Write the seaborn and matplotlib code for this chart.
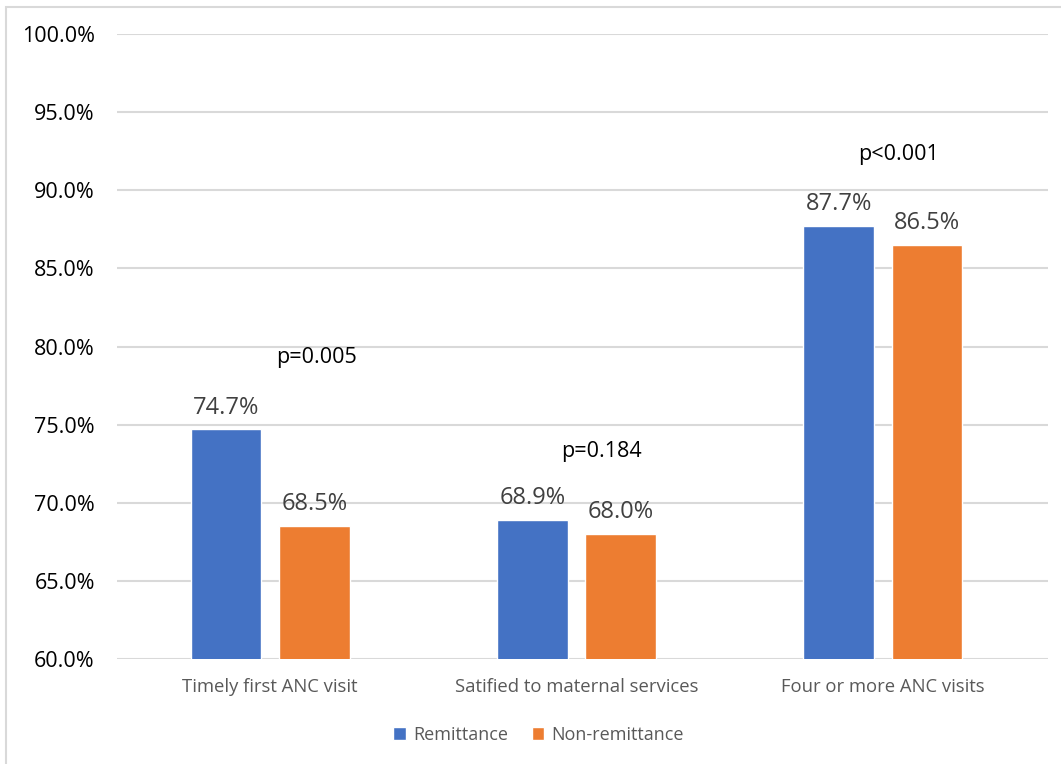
import matplotlib
matplotlib.use("Agg")
import matplotlib.pyplot as plt
import seaborn as sns
import pandas as pd
from matplotlib.patches import Rectangle

categories = ["Timely first ANC visit", "Satified to maternal services", "Four or more ANC visits"]
groups = ["Remittance", "Non-remittance"]
remittance = [74.7, 68.9, 87.7]
non_remittance = [68.5, 68.0, 86.5]
p_labels = ["p=0.005", "p=0.184", "p<0.001"]
p_pos = [(0.15, 79.3), (1.08, 73.3), (2.05, 92.3)]
y_ticks = [60, 65, 70, 75, 80, 85, 90, 95, 100]

df = pd.DataFrame({
    "category": categories * 2,
    "group": [groups[0]] * 3 + [groups[1]] * 3,
    "value": remittance + non_remittance,
})

sns.set_theme(style="white")
plt.rcParams["font.family"] = ["Open Sans", "DejaVu Sans"]

fig = plt.figure(figsize=(10.61, 7.64), dpi=100)
ax = fig.add_axes([0.1103, 0.1374, 0.8774, 0.8181])

sns.barplot(data=df, x="category", y="value", hue="group", order=categories,
            hue_order=groups, palette=["#4472C4", "#ED7D31"], width=0.577,
            gap=0.2, ax=ax, legend=True, saturation=1, errorbar=None)

ax.set_ylim(60, 100)
ax.set_xlim(-0.5, 2.539)
ax.set_yticks(y_ticks)
ax.set_yticklabels([f"{v:.1f}%" for v in y_ticks], fontsize=15.5, color="black")
ax.tick_params(axis="y", length=0, pad=16)
ax.tick_params(axis="x", length=0, pad=14, labelsize=13.3, labelcolor="#595959")
ax.yaxis.grid(True, color="#d9d9d9", linewidth=1.5)
ax.set_axisbelow(True)
for s in ax.spines.values():
    s.set_visible(False)
ax.set_xlabel("")
ax.set_ylabel("")

for cont in ax.containers:
    ax.bar_label(cont, fmt="%.1f%%", padding=7, fontsize=17, color="#404040")

for txt, (x, y) in zip(p_labels, p_pos):
    ax.text(x, y, txt, ha="center", va="center", fontsize=15.5, color="black")

leg = ax.legend(loc="center", bbox_to_anchor=(0.453, -0.121), ncol=2, frameon=False,
                fontsize=13, handlelength=0.7, handleheight=0.7, handletextpad=0.4,
                columnspacing=1.3)
for t in leg.get_texts():
    t.set_color("#595959")

fig.patches.append(Rectangle((6 / 1061, -0.1), 1.2, 1 - 7 / 764 + 0.1,
                             transform=fig.transFigure, fill=False,
                             edgecolor="#d9d9d9", linewidth=1.5))

fig.savefig("out.png", dpi=100)
